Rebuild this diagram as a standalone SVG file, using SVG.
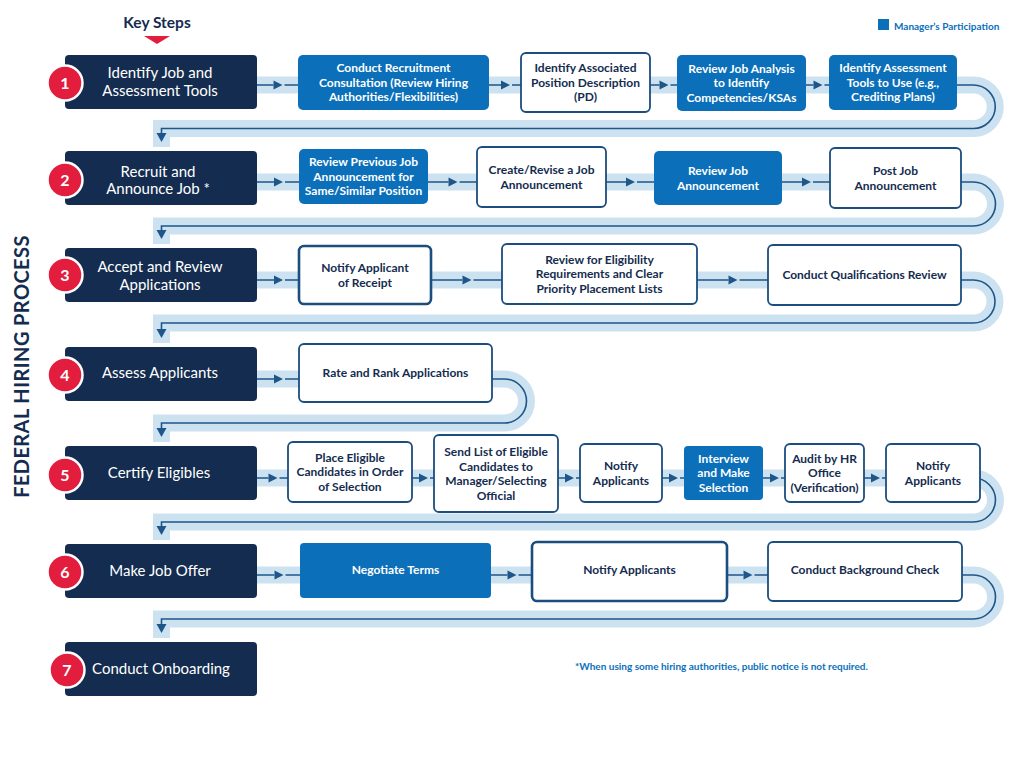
<svg xmlns="http://www.w3.org/2000/svg" width="1024" height="768" viewBox="0 0 1024 768">
<style>
.band{fill:none;stroke:#cde2f1;stroke-width:17;stroke-linejoin:miter}
.ln{fill:none;stroke:#1e5689;stroke-width:1.6}
.ah{fill:#1e5689}
.step{fill:#142c4f}
.mgr{fill:#0b6fba}
.hr{fill:#fff;stroke:#1b4d7e;stroke-width:1.8}
.thick{stroke-width:2.6}
.badge{fill:#e31d3d;stroke:#fff;stroke-width:2.5}
text{font-family:Lato,"Liberation Sans",sans-serif}
.st{fill:#fff;font-size:15px;text-anchor:middle}
.num{fill:#fff;font-size:16px;font-weight:700;text-anchor:middle}
.wt{fill:#fff;font-size:12px;font-weight:700;text-anchor:middle}
.nt{fill:#142c4f;font-size:12px;font-weight:700;text-anchor:middle}
</style>
<rect width="1024" height="768" fill="#fff"/>
<text x="157" y="28" fill="#142c4f" font-size="15.5" font-weight="700" text-anchor="middle">Key Steps</text>
<polygon points="144,36 170,36 157,44" fill="#e31d3d"/>
<text transform="translate(28.5,366.5) rotate(-90)" fill="#142c4f" font-size="20" font-weight="700" letter-spacing="0.4" text-anchor="middle">FEDERAL HIRING PROCESS</text>
<rect x="878" y="19" width="11" height="11" fill="#0b6fba"/>
<text x="894" y="29.5" fill="#0b6fba" font-size="10" font-weight="700">Manager’s Participation</text>
<text x="575" y="670" fill="#0b6fba" font-size="10" font-weight="700">*When using some hiring authorities, public notice is not required.</text>

<g id="connectors">
<path class="band" d="M257 85 H973.5 A21.75 21.75 0 0 1 973.5 128.5 H161.5 V147"/>
<path class="band" d="M257 182 H973.5 A22 22 0 0 1 973.5 226 H161.5 V244"/>
<path class="band" d="M257 280 H973.5 A21.5 21.5 0 0 1 973.5 323 H161.5 V343"/>
<path class="band" d="M257 379 H504.5 A22 22 0 0 1 504.5 423 H161.5 V442"/>
<path class="band" d="M257 478 H973.5 A22 22 0 0 1 973.5 522 H161.5 V540"/>
<path class="band" d="M257 575 H973.5 A22 22 0 0 1 973.5 619 H161.5 V638"/>

<path class="ln" d="M257 85 H273.5 M284.5 85 H298 M489 85 H501 M512 85 H521 M650 85 H659.5 M670.5 85 H677 M806 85 H813.5 M824.5 85 H829"/>
<path class="ah" d="M273.5 80.5 L282.5 85 L273.5 89.5Z M501 80.5 L510 85 L501 89.5Z M659.5 80.5 L668.5 85 L659.5 89.5Z M813.5 80.5 L822.5 85 L813.5 89.5Z"/>
<path class="ln" d="M957 85 H973.5 A21.75 21.75 0 0 1 973.5 128.5 H161.5 V133"/>
<path class="ah" d="M156.5 133 L166.5 133 L161.5 142Z"/>

<path class="ln" d="M257 182 H274 M285 182 H299 M428 182 H448.5 M459.5 182 H477 M606 182 H626 M637 182 H654 M782 182 H802 M813 182 H830"/>
<path class="ah" d="M274 177.5 L283 182 L274 186.5Z M448.5 177.5 L457.5 182 L448.5 186.5Z M626 177.5 L635 182 L626 186.5Z M802 177.5 L811 182 L802 186.5Z"/>
<path class="ln" d="M961 182 H973.5 A22 22 0 0 1 973.5 226 H161.5 V230"/>
<path class="ah" d="M156.5 230 L166.5 230 L161.5 239Z"/>

<path class="ln" d="M257 280 H274 M285 280 H299 M431 280 H462.5 M473.5 280 H502 M697 280 H728.5 M739.5 280 H768"/>
<path class="ah" d="M274 275.5 L283 280 L274 284.5Z M462.5 275.5 L471.5 280 L462.5 284.5Z M728.5 275.5 L737.5 280 L728.5 284.5Z"/>
<path class="ln" d="M961 280 H973.5 A21.5 21.5 0 0 1 973.5 323 H161.5 V329"/>
<path class="ah" d="M156.5 329 L166.5 329 L161.5 338Z"/>

<path class="ln" d="M257 379 H274 M285 379 H299"/>
<path class="ah" d="M274 374.5 L283 379 L274 383.5Z"/>
<path class="ln" d="M492 379 H504.5 A22 22 0 0 1 504.5 423 H161.5 V428"/>
<path class="ah" d="M156.5 428 L166.5 428 L161.5 437Z"/>

<path class="ln" d="M257 478 H268.5 M279.5 478 H288 M412 478 H419 M430 478 H434 M558 478 H565 M576 478 H580 M662 478 H669 M680 478 H684 M763 478 H770 M781 478 H785 M864 478 H871 M882 478 H886"/>
<path class="ah" d="M268.5 473.5 L277.5 478 L268.5 482.5Z M419 473.5 L428 478 L419 482.5Z M565 473.5 L574 478 L565 482.5Z M669 473.5 L678 478 L669 482.5Z M770 473.5 L779 478 L770 482.5Z M871 473.5 L880 478 L871 482.5Z"/>
<path class="ln" d="M973.5 478 A22 22 0 0 1 973.5 522 H161.5 V526"/>
<path class="ah" d="M156.5 526 L166.5 526 L161.5 535Z"/>

<path class="ln" d="M257 575 H274.5 M285.5 575 H300 M491 575 H507.5 M518.5 575 H532 M727 575 H743.5 M754.5 575 H768"/>
<path class="ah" d="M274.5 570.5 L283.5 575 L274.5 579.5Z M507.5 570.5 L516.5 575 L507.5 579.5Z M743.5 570.5 L752.5 575 L743.5 579.5Z"/>
<path class="ln" d="M962 575 H973.5 A22 22 0 0 1 973.5 619 H161.5 V624"/>
<path class="ah" d="M156.5 624 L166.5 624 L161.5 633Z"/>
</g>

<g id="step1"><rect class="step" x="65" y="55" width="192" height="54" rx="4"/><circle class="badge" cx="65" cy="83" r="17.5"/><text class="num" x="65" y="89">1</text><text class="st"><tspan x="160" y="78.4">Identify Job and</tspan><tspan x="160" y="96.4">Assessment Tools</tspan></text></g>
<g id="step2"><rect class="step" x="65" y="151" width="192" height="54" rx="4"/><circle class="badge" cx="65" cy="180" r="17.5"/><text class="num" x="65" y="186">2</text><text class="st"><tspan x="158" y="177">Recruit and</tspan><tspan x="158" y="194">Announce Job *</tspan></text></g>
<g id="step3"><rect class="step" x="65" y="248" width="192" height="54" rx="4"/><circle class="badge" cx="65" cy="275" r="17.5"/><text class="num" x="65" y="281">3</text><text class="st"><tspan x="160" y="272">Accept and Review</tspan><tspan x="160" y="290">Applications</tspan></text></g>
<g id="step4"><rect class="step" x="65" y="347" width="192" height="54" rx="4"/><circle class="badge" cx="65" cy="375" r="17.5"/><text class="num" x="65" y="381">4</text><text class="st" x="160" y="378">Assess Applicants</text></g>
<g id="step5"><rect class="step" x="65" y="446" width="192" height="54" rx="4"/><circle class="badge" cx="65" cy="475" r="17.5"/><text class="num" x="65" y="481">5</text><text class="st" x="159" y="478">Certify Eligibles</text></g>
<g id="step6"><rect class="step" x="65" y="544" width="192" height="54" rx="4"/><circle class="badge" cx="65" cy="572" r="17.5"/><text class="num" x="65" y="578">6</text><text class="st" x="160" y="576">Make Job Offer</text></g>
<g id="step7"><rect class="step" x="65" y="642" width="192" height="54" rx="4"/><circle class="badge" cx="67" cy="670" r="17.5"/><text class="num" x="67" y="676">7</text><text class="st" x="161" y="674">Conduct Onboarding</text></g>

<g id="n1a"><rect class="mgr" x="298" y="55" width="191" height="55" rx="5"/><text class="wt"><tspan x="393.5" y="72.2">Conduct Recruitment</tspan><tspan x="393.5" y="86.7">Consultation (Review Hiring</tspan><tspan x="393.5" y="101.2">Authorities/Flexibilities)</tspan></text></g>
<g id="n1b"><rect class="hr" x="521" y="53" width="129" height="59" rx="5"/><text class="nt"><tspan x="585.5" y="72.2">Identify Associated</tspan><tspan x="585.5" y="86.7">Position Description</tspan><tspan x="585.5" y="101.2">(PD)</tspan></text></g>
<g id="n1c"><rect class="mgr" x="677" y="55" width="129" height="56" rx="5"/><text class="wt"><tspan x="741.5" y="72.7">Review Job Analysis</tspan><tspan x="741.5" y="87.2">to Identify</tspan><tspan x="741.5" y="101.7">Competencies/KSAs</tspan></text></g>
<g id="n1d"><rect class="mgr" x="829" y="55" width="128" height="55" rx="5"/><text class="wt"><tspan x="893" y="72.2">Identify Assessment</tspan><tspan x="893" y="86.7">Tools to Use (e.g.,</tspan><tspan x="893" y="101.2">Crediting Plans)</tspan></text></g>

<g id="n2a"><rect class="mgr" x="299" y="149" width="129" height="55" rx="5"/><text class="wt"><tspan x="363.5" y="166.2">Review Previous Job</tspan><tspan x="363.5" y="180.7">Announcement for</tspan><tspan x="363.5" y="195.2">Same/Similar Position</tspan></text></g>
<g id="n2b"><rect class="hr" x="477" y="147" width="129" height="60" rx="5"/><text class="nt"><tspan x="541.5" y="174.2">Create/Revise a Job</tspan><tspan x="541.5" y="188.7">Announcement</tspan></text></g>
<g id="n2c"><rect class="mgr" x="654" y="151" width="128" height="54" rx="5"/><text class="wt"><tspan x="718" y="175.2">Review Job</tspan><tspan x="718" y="189.7">Announcement</tspan></text></g>
<g id="n2d"><rect class="hr" x="830" y="148" width="131" height="60" rx="5"/><text class="nt"><tspan x="895.5" y="175.2">Post Job</tspan><tspan x="895.5" y="189.7">Announcement</tspan></text></g>

<g id="n3a"><rect class="hr thick" x="299" y="246" width="132" height="58" rx="5"/><text class="nt"><tspan x="365" y="272.2">Notify Applicant</tspan><tspan x="365" y="286.7">of Receipt</tspan></text></g>
<g id="n3b"><rect class="hr" x="502" y="244" width="195" height="60" rx="5"/><text class="nt"><tspan x="599.5" y="263.9">Review for Eligibility</tspan><tspan x="599.5" y="278.4">Requirements and Clear</tspan><tspan x="599.5" y="292.9">Priority Placement Lists</tspan></text></g>
<g id="n3c"><rect class="hr" x="768" y="245" width="193" height="60" rx="5"/><text class="nt" x="864.5" y="279.4">Conduct Qualifications Review</text></g>

<g id="n4a"><rect class="hr" x="299" y="344" width="193" height="58" rx="5"/><text class="nt" x="395.5" y="377.4">Rate and Rank Applications</text></g>

<g id="n5a"><rect class="hr" x="288" y="442" width="124" height="60" rx="5"/><text class="nt"><tspan x="350" y="461.9">Place Eligible</tspan><tspan x="350" y="476.4">Candidates in Order</tspan><tspan x="350" y="490.9">of Selection</tspan></text></g>
<g id="n5b"><rect class="hr" x="434" y="435" width="124" height="77" rx="5"/><text class="nt"><tspan x="496" y="456.2">Send List of Eligible</tspan><tspan x="496" y="470.7">Candidates to</tspan><tspan x="496" y="485.2">Manager/Selecting</tspan><tspan x="496" y="499.7">Official</tspan></text></g>
<g id="n5c"><rect class="hr" x="580" y="444" width="82" height="58" rx="5"/><text class="nt"><tspan x="621" y="470.2">Notify</tspan><tspan x="621" y="484.7">Applicants</tspan></text></g>
<g id="n5d"><rect class="mgr" x="684" y="446" width="79" height="54" rx="4"/><text class="wt"><tspan x="723.5" y="462.9">Interview</tspan><tspan x="723.5" y="477.4">and Make</tspan><tspan x="723.5" y="491.9">Selection</tspan></text></g>
<g id="n5e"><rect class="hr" x="785" y="444" width="79" height="58" rx="5"/><text class="nt"><tspan x="824.5" y="462.9">Audit by HR</tspan><tspan x="824.5" y="477.4">Office</tspan><tspan x="824.5" y="491.9">(Verification)</tspan></text></g>
<g id="n5f"><rect class="hr" x="886" y="444" width="94" height="58" rx="5"/><text class="nt"><tspan x="933" y="470.2">Notify</tspan><tspan x="933" y="484.7">Applicants</tspan></text></g>

<g id="n6a"><rect class="mgr" x="300" y="543" width="191" height="55" rx="4"/><text class="wt" x="395.5" y="574.4">Negotiate Terms</text></g>
<g id="n6b"><rect class="hr thick" x="532" y="542" width="195" height="59" rx="5"/><text class="nt" x="629.5" y="574.4">Notify Applicants</text></g>
<g id="n6c"><rect class="hr" x="768" y="542" width="194" height="59" rx="5"/><text class="nt" x="865" y="574.4">Conduct Background Check</text></g>
</svg>
